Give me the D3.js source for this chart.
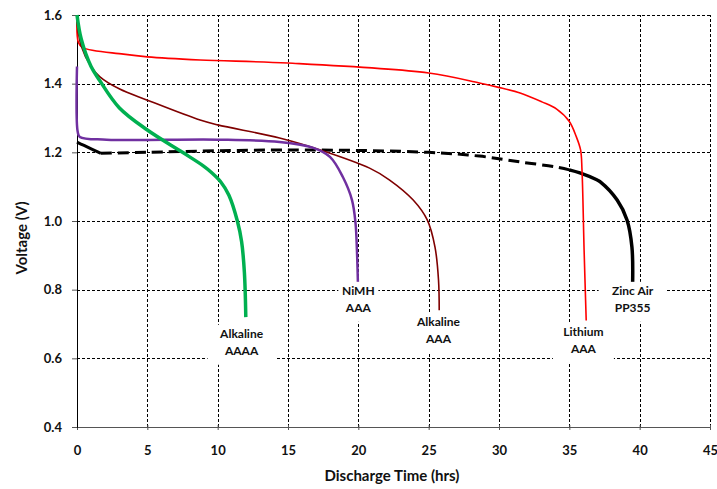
<!DOCTYPE html>
<html>
<head>
<meta charset="utf-8">
<style>
    body { margin: 0; background: #fff; }
    text { font-family: Lato, "Open Sans", sans-serif; font-weight: bold; fill: #111; }
</style>
</head>
<body>
<svg width="717" height="489"></svg>
<script src="https://d3js.org/d3.v7.min.js"></script>
<script>

    // ---- data ----
    var xTicks = [0, 5, 10, 15, 20, 25, 30, 35, 40, 45];
    var yTicks = [0.4, 0.6, 0.8, 1.0, 1.2, 1.4, 1.6];

    var alkAAAA_t = [0, 0.3, 1, 1.6, 3, 5, 7.5, 9, 9.6, 10.2, 10.8, 11.4, 11.7, 11.9, 12];
    var alkAAAA_v = [1.6, 1.53, 1.45, 1.41, 1.33, 1.265, 1.2, 1.16, 1.14, 1.115, 1.075, 1.0, 0.94, 0.85, 0.72];

    var nimh_t = [0, 0.05, 0.2, 2.1, 10, 14.4, 16.8, 18, 18.9, 19.55, 19.8, 19.9, 19.97];
    var nimh_v = [1.45, 1.26, 1.245, 1.237, 1.237, 1.23, 1.213, 1.186, 1.128, 1.061, 0.994, 0.915, 0.82];

    var alkAAA_t = [0, 0.3, 1, 1.63, 3, 5, 8.75, 10, 14.4, 17.3, 20.8, 22.2, 23.9, 24.9, 25.45, 25.7, 25.75];
    var alkAAA_v = [1.58, 1.51, 1.45, 1.42, 1.385, 1.352, 1.294, 1.28, 1.242, 1.207, 1.154, 1.12, 1.061, 1.003, 0.924, 0.828, 0.74];

    var lith_t = [0, 0.1, 0.4, 3.3, 5, 8.75, 15, 25, 28.6, 29.9, 31.5, 33.05, 34.1, 35, 35.5, 35.8, 35.9, 36.05, 36.2];
    var lith_v = [1.6, 1.52, 1.505, 1.486, 1.478, 1.469, 1.46, 1.431, 1.402, 1.39, 1.373, 1.347, 1.326, 1.29, 1.245, 1.207, 1.149, 0.915, 0.71];

    // zinc air: solid start, dashed middle, solid end
    var zinc_t = [0, 0.5, 1.7, 5, 15, 25, 28.6, 31.5, 34.1, 35.0, 35.75, 36.95, 37.2, 38.4, 39.1, 39.45, 39.5];
    var zinc_v = [1.23, 1.22, 1.197, 1.2, 1.207, 1.2, 1.189, 1.172, 1.157, 1.149, 1.14, 1.12, 1.114, 1.061, 1.003, 0.924, 0.82];
    var zincDashFrom = 2, zincDashTo = 9;

    var labelLines = [["Alkaline", "AAAA"], ["NiMH", "AAA"], ["Alkaline", "AAA"], ["Lithium", "AAA"], ["Zinc Air", "PP355"]];
    var labelT = [11.7, 20, 25.7, 36, 39.5];
    var labelV = [0.66, 0.785, 0.695, 0.665, 0.785];

    var svg = d3.select("svg"),
        margin = {top: 15, right: 7, bottom: 62, left: 77},
        width = +svg.attr("width"),
        height = +svg.attr("height");

    var x = d3.scaleLinear()
        .domain([0, 45])
        .range([margin.left, width - margin.right]);

    var y = d3.scaleLinear()
        .domain([0.4, 1.6])
        .range([height - margin.bottom, margin.top]);

    // grid (dotted)
    svg.append("g")
        .attr("transform", "translate(0," + y(0.4) + ")")
        .call(d3.axisBottom(x).tickValues(xTicks.slice(1)).tickSize(-(y(0.4) - y(1.6))).tickFormat(""))
        .call(function(g) {
            g.select(".domain").remove();
            g.selectAll(".tick line")
                .attr("stroke", "#000")
                .attr("stroke-width", 1)
                .attr("stroke-dasharray", "3,2")
                .attr("shape-rendering", "crispEdges");
        });
    svg.append("g")
        .attr("transform", "translate(" + x(0) + ",0)")
        .call(d3.axisLeft(y).tickValues(yTicks.slice(1)).tickSize(-(x(45) - x(0))).tickFormat(""))
        .call(function(g) {
            g.select(".domain").remove();
            g.selectAll(".tick line")
                .attr("stroke", "#000")
                .attr("stroke-width", 1)
                .attr("stroke-dasharray", "3,2")
                .attr("shape-rendering", "crispEdges");
        });

    // axes
    svg.append("g")
        .attr("transform", "translate(0," + y(0.4) + ")")
        .call(d3.axisBottom(x).tickValues(xTicks).tickSize(3).tickPadding(16))
        .call(function(g) {
            g.select(".domain").attr("stroke", "#555");
            g.selectAll(".tick line").attr("stroke", "#555").attr("y1", -2);
            g.selectAll(".tick text").attr("font-size", 13).attr("font-family", "Lato, sans-serif").attr("font-weight", "bold");
        });

    svg.append("g")
        .attr("transform", "translate(" + x(0) + ",0)")
        .call(d3.axisLeft(y).tickValues(yTicks).tickFormat(d3.format(".1f")).tickSize(5).tickPadding(10))
        .call(function(g) {
            g.select(".domain").attr("stroke", "#000");
            g.selectAll(".tick line").attr("stroke", "#555");
            g.selectAll(".tick text").attr("font-size", 13).attr("font-family", "Lato, sans-serif").attr("font-weight", "bold");
        });

    svg.append("text")
        .attr("x", 392)
        .attr("y", 481)
        .attr("text-anchor", "middle")
        .attr("font-size", 15)
        .text("Discharge Time (hrs)");

    svg.append("text")
        .attr("transform", "translate(27,238) rotate(-90)")
        .attr("text-anchor", "middle")
        .attr("font-size", 15)
        .text("Voltage (V)");

    // curves
    var smooth = d3.line()
        .curve(d3.curveCatmullRom.alpha(0.5))
        .x(function(d) { return x(d[0]); })
        .y(function(d) { return y(d[1]); });

    function pts(t, v) { return t.map(function(d, i) { return [d, v[i]]; }); }

    function draw(data, color, w, dash) {
        svg.append("path")
            .datum(data)
            .attr("fill", "none")
            .attr("stroke", color)
            .attr("stroke-width", w)
            .attr("stroke-linejoin", "round")
            .attr("stroke-dasharray", dash || null)
            .attr("d", smooth);
    }

    var zinc = pts(zinc_t, zinc_v);
    draw(zinc.slice(0, zincDashFrom + 1), "#000", 3);
    draw(zinc.slice(zincDashFrom, zincDashTo + 1), "#000", 3, "11,6");
    draw(zinc.slice(zincDashTo), "#000", 3.5);

    draw(pts(lith_t, lith_v), "#ff0000", 1.6);
    draw(pts(alkAAA_t, alkAAA_v), "#7f0000", 1.6);
    draw(pts(nimh_t, nimh_v), "#7030a0", 2.5);
    draw(pts(alkAAAA_t, alkAAAA_v), "#00b050", 3.5);

    // labels with white boxes
    var labels = svg.selectAll(".lbl")
        .data(labelLines)
        .enter().append("g")
        .attr("transform", function(d, i) { return "translate(" + x(labelT[i]) + "," + y(labelV[i]) + ")"; });

    labels.append("rect")
        .attr("x", function(d) { return -d[0].length * 3.5 - 6; })
        .attr("y", -13)
        .attr("width", function(d) { return d[0].length * 7 + 12; })
        .attr("height", 40)
        .attr("fill", "#fff");

    labels.selectAll("text")
        .data(function(d) { return d; })
        .enter().append("text")
        .attr("text-anchor", "middle")
        .attr("font-size", 12)
        .attr("y", function(d, i) { return i * 17; })
        .text(function(d) { return d; });

</script>
</body>
</html>
